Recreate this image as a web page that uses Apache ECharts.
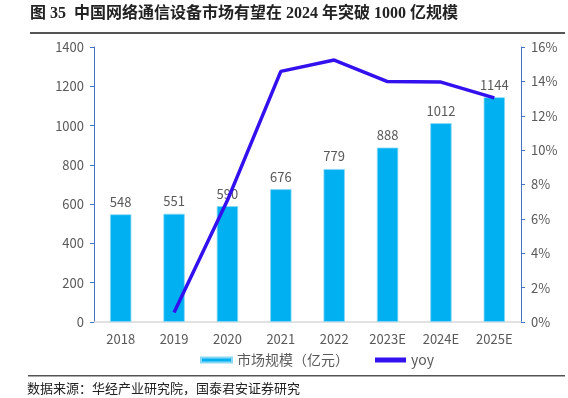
<!DOCTYPE html>
<html>
<head>
<meta charset="utf-8">
<script src="https://cdn.jsdelivr.net/npm/echarts@6/dist/echarts.min.js"></script>
<style>
html,body{margin:0;padding:0;background:#fff;}
#chart{width:568px;height:398px;}
</style>
</head>
<body>
<div id="chart"></div>
<script>
// 数据
var years = ['2018', '2019', '2020', '2021', '2022', '2023E', '2024E', '2025E'];
var marketSize = [548, 551, 590, 676, 779, 888, 1012, 1144];   // 亿元
var yoy = [null, 0.55, 7.08, 14.58, 15.24, 13.99, 13.96, 13.04];  // %

var txtFont = '"Noto Sans CJK SC", "Noto Sans", sans-serif';
var grayTxt = '#595959';

var chart = echarts.init(document.getElementById('chart'));

chart.setOption({
    backgroundColor: '#fff',
    animation: false,
    textStyle: {fontFamily: txtFont},
    graphic: [
        {   // 标题
            type: 'text', left: 30, top: 6,
            style: {
                text: '图 35  中国网络通信设备市场有望在 2024 年突破 1000 亿规模',
                font: 'bold 16px "Liberation Serif", "Noto Sans CJK SC", serif',
                fill: '#222'
            }
        },
        {type: 'rect', shape: {x: 30, y: 32, width: 535, height: 2}, style: {fill: '#555'}},
        {type: 'rect', shape: {x: 28, y: 375, width: 537, height: 1.5}, style: {fill: '#555'}},
        {   // 数据来源
            type: 'text', left: 27, top: 382,
            style: {
                text: '数据来源：华经产业研究院，国泰君安证券研究',
                font: '13px "Noto Sans CJK SC", serif',
                fill: '#222'
            }
        }
    ],
    grid: {left: 94, right: 47, top: 47, bottom: 76},
    legend: {
        left: 195, top: 348,
        itemWidth: 31, itemHeight: 5, itemGap: 26,
        textStyle: {color: grayTxt, fontSize: 14},
        data: [
            {name: '市场规模（亿元）', icon: 'rect'},
            {name: 'yoy', icon: 'rect'}
        ]
    },
    xAxis: {
        type: 'category',
        data: years,
        axisLine: {lineStyle: {color: '#D9D9D9', width: 1.5}},
        axisTick: {show: false},
        axisLabel: {color: grayTxt, fontSize: 13, margin: 11}
    },
    yAxis: [
        {
            type: 'value', min: 0, max: 1400, interval: 200,
            axisLine: {show: true, lineStyle: {color: '#4472C4'}},
            axisTick: {show: true, length: 4, lineStyle: {color: '#4472C4'}},
            splitLine: {show: false},
            axisLabel: {color: grayTxt, fontSize: 13, margin: 10, formatter: function(v){ return String(v); }}
        },
        {
            type: 'value', min: 0, max: 16, interval: 2,
            position: 'right',
            axisLine: {show: true, lineStyle: {color: '#4472C4'}},
            axisTick: {show: true, length: 4, lineStyle: {color: '#4472C4'}},
            splitLine: {show: false},
            axisLabel: {color: grayTxt, fontSize: 13, margin: 10, formatter: '{value}%'}
        }
    ],
    series: [
        {
            name: '市场规模（亿元）',
            type: 'bar',
            data: marketSize,
            barWidth: '40%',
            itemStyle: {color: '#00B0F0', borderColor: '#8AD8F5', borderWidth: 0.8},
            label: {show: true, position: 'top', distance: 6, color: grayTxt, fontSize: 13}
        },
        {
            name: 'yoy',
            type: 'line',
            yAxisIndex: 1,
            data: yoy,
            symbol: 'none',
            lineStyle: {color: '#3311EE', width: 3.5},
            itemStyle: {color: '#3311EE'}
        }
    ]
});
</script>
</body>
</html>
